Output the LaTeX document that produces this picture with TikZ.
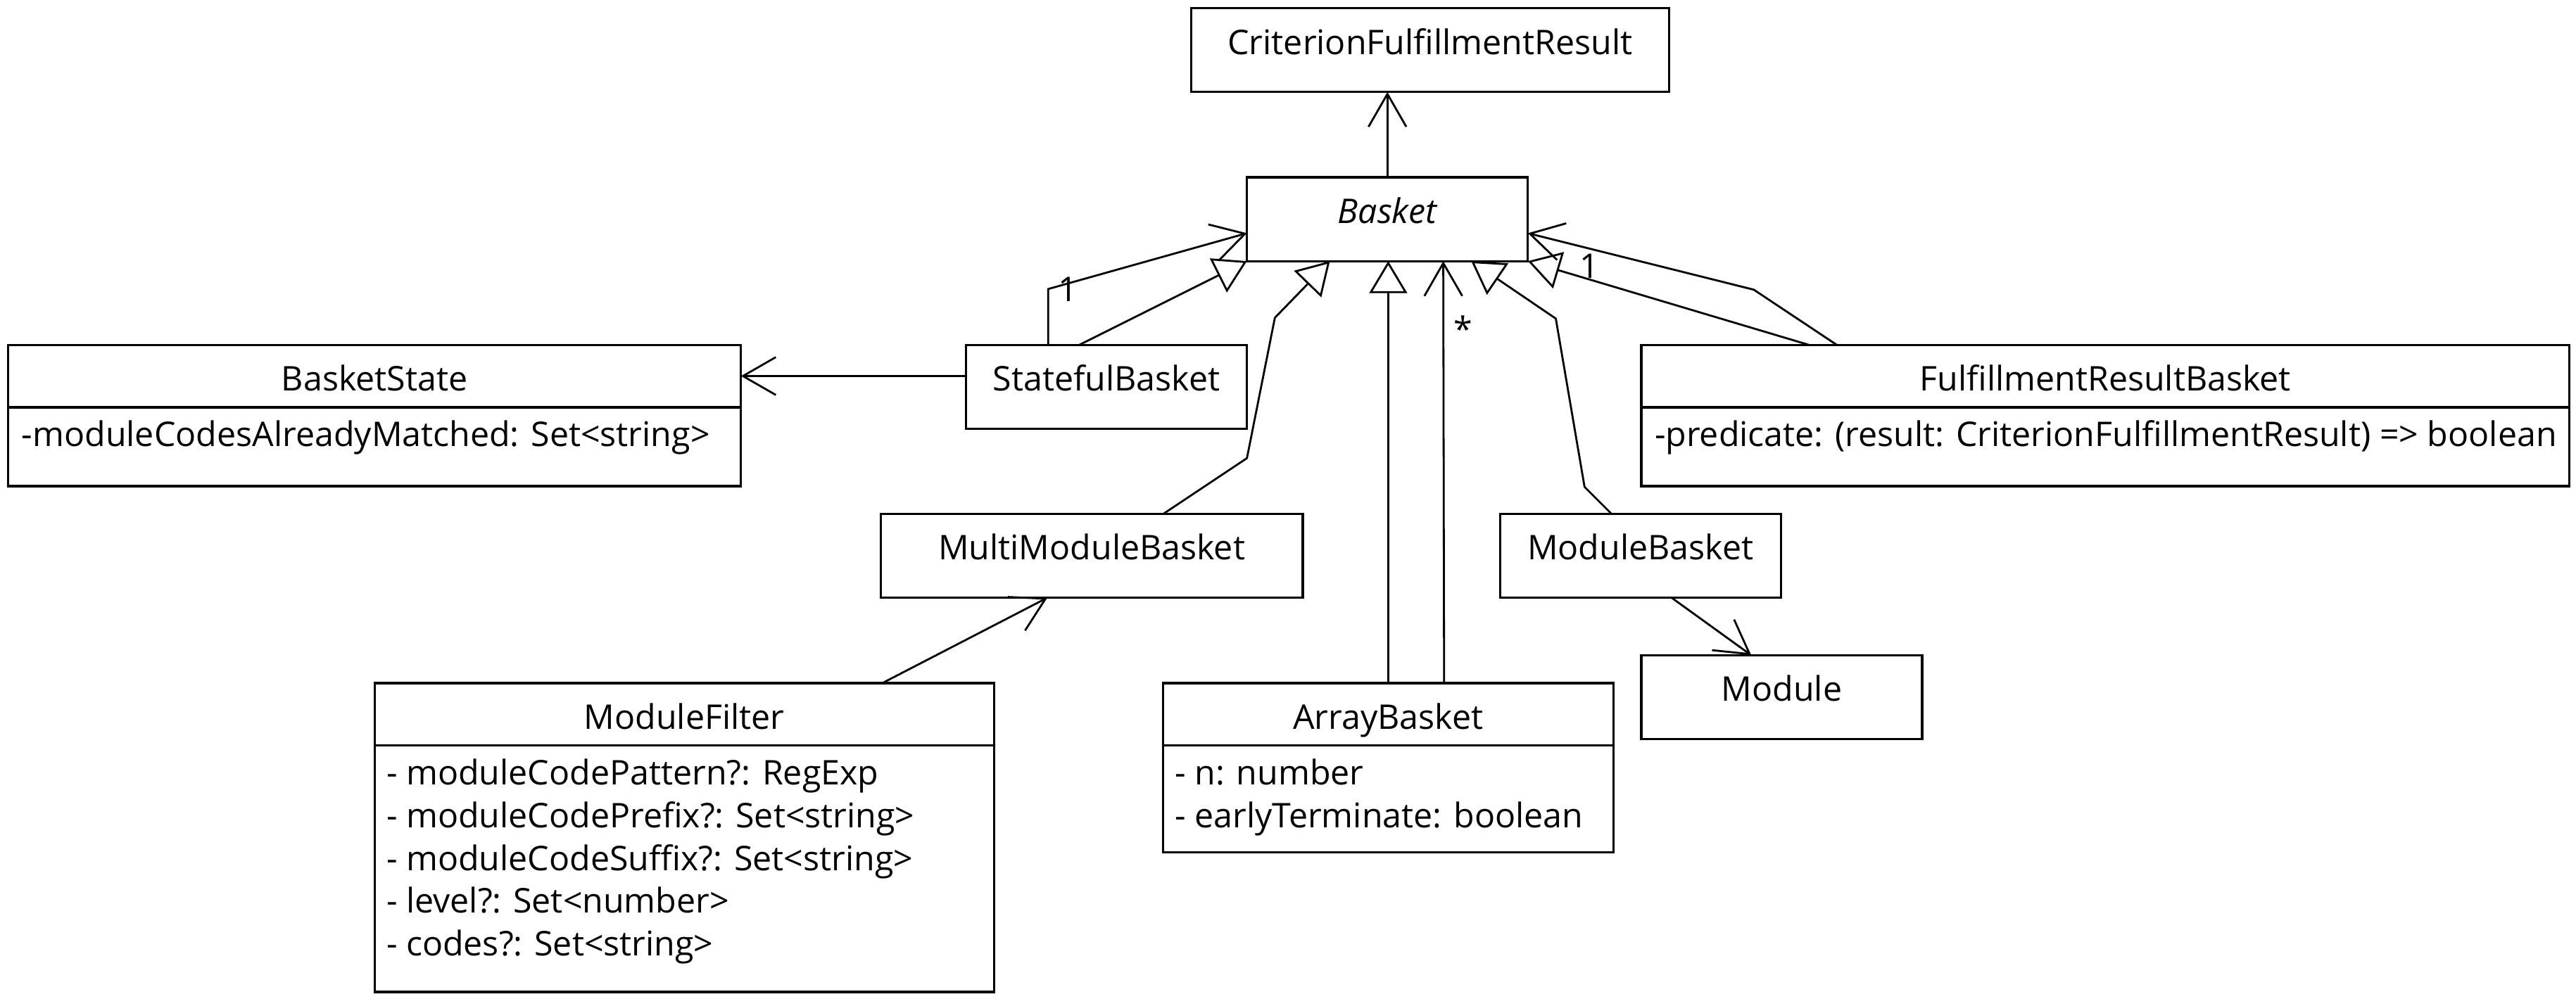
\documentclass[tikz,border=0pt]{standalone}
\usepackage{fontspec}
\setmainfont{Open Sans}
\usetikzlibrary{arrows.meta}

\begin{document}
\begin{tikzpicture}[x=1pt, y=-1pt, font=\fontsize{20.7}{26}\selectfont,
  cls/.style = {draw, line width=1.4pt, anchor=north west, inner sep=0pt, outer sep=0pt, minimum height=51pt, text height=15pt, text depth=10pt},
  head/.style = {draw, line width=1.4pt, anchor=north west, inner sep=0pt, outer sep=0pt, minimum height=38pt, text height=20pt, text depth=2pt},
  body/.style = {draw, line width=1.4pt, anchor=north west, inner sep=0pt, outer sep=0pt},
  attr/.style = {anchor=base west, inner sep=0pt},
  mult/.style = {inner sep=0pt},
  assoc/.style = {line width=1.2pt, -{Straight Barb[length=20pt, width=23pt]}},
  inherit/.style = {line width=1.2pt, -{Triangle[open, length=19.5pt, width=23pt]}}]
\path[fill=white, use as bounding box] (0,0) rectangle (1568,608);
\node[cls, minimum width=291pt] (crf) at (725,5) {CriterionFulfillmentResult};
\node[cls, minimum width=171pt] (basket) at (759,108) {\itshape Basket};
\node[head, minimum width=446pt] (bshead) at (5,210) {BasketState};
\node[body, minimum width=446pt, minimum height=48pt] (bsbody) at (bshead.south west) {};
\node[attr] (bsattr) at ([xshift=8pt, yshift=-24pt]bsbody.north west) {-moduleCodesAlreadyMatched: Set<string>};
\node[cls, minimum width=171pt] (stateful) at (588,210) {StatefulBasket};
\node[head, minimum width=565pt] (frbhead) at (999,210) {FulfillmentResultBasket};
\node[body, minimum width=565pt, minimum height=48pt] (frbbody) at (frbhead.south west) {};
\node[attr] (frbattr) at ([xshift=8pt, yshift=-24pt]frbbody.north west) {-predicate: (result: CriterionFulfillmentResult) => boolean};
\node[cls, minimum width=257pt] (mmb) at (536,313) {MultiModuleBasket};
\node[cls, minimum width=171pt] (mb) at (913,313) {ModuleBasket};
\node[cls, minimum width=171pt] (module) at (999,399) {Module};
\node[head, minimum width=377pt] (mfhead) at (228,416) {ModuleFilter};
\node[body, minimum width=377pt, minimum height=150pt] (mfbody) at (mfhead.south west) {};
\node[attr] (mf1) at ([xshift=7pt, yshift=-24pt]mfbody.north west) {- moduleCodePattern?: RegExp};
\node[attr] (mf2) at ([yshift=-26pt]mf1.base west) {- moduleCodePrefix?: Set<string>};
\node[attr] (mf3) at ([yshift=-26pt]mf2.base west) {- moduleCodeSuffix?: Set<string>};
\node[attr] (mf4) at ([yshift=-26pt]mf3.base west) {- level?: Set<number>};
\node[attr] (mf5) at ([yshift=-26pt]mf4.base west) {- codes?: Set<string>};
\node[head, minimum width=274pt] (abhead) at (708,416) {ArrayBasket};
\node[body, minimum width=274pt, minimum height=65pt] (abbody) at (abhead.south west) {};
\node[attr] (ab1) at ([xshift=7pt, yshift=-24pt]abbody.north west) {- n: number};
\node[attr] (ab2) at ([yshift=-26pt]ab1.base west) {- earlyTerminate: boolean};
\draw[assoc] (basket.north) -- (basket.north |- crf.south);
\draw[assoc] (stateful.west |- bshead.east) -- (bshead.east);
\draw[assoc] ([xshift=50pt]stateful.north west) -- ++(0,-34) node[mult, xshift=12pt] {1} -- ([yshift=-8.5pt]basket.west);
\draw[inherit] ([xshift=69pt]stateful.north west) -- (basket.south west);
\draw[inherit] ([xshift=43.5pt]mmb.north) -- (759,279) -- (776,193.5) -- ([xshift=-35pt]basket.south);
\draw[inherit] (abhead.north) -- (abhead.north |- basket.south);
\draw[assoc] ([xshift=34pt]abhead.north) -- node[mult, pos=0.84, xshift=12pt] {*} ([xshift=34pt]basket.south);
\draw[inherit] ([xshift=-17.5pt]mb.north) -- (964.5,296.5) -- (947,194) -- ([xshift=51pt]basket.south);
\draw[inherit] ([xshift=102pt]frbhead.north west) -- node[mult, pos=0.78, yshift=8pt] {1} (basket.south east);
\draw[assoc] ([xshift=119pt]frbhead.north west) -- (1067.5,176.4) -- ([yshift=-8.5pt]basket.east);
\draw[assoc] ([xshift=19pt]mb.south) -- ([xshift=-18.5pt]module.north);
\draw[assoc] ([xshift=120.5pt]mfhead.north) -- ([xshift=-27pt]mmb.south);
\end{tikzpicture}
\end{document}
